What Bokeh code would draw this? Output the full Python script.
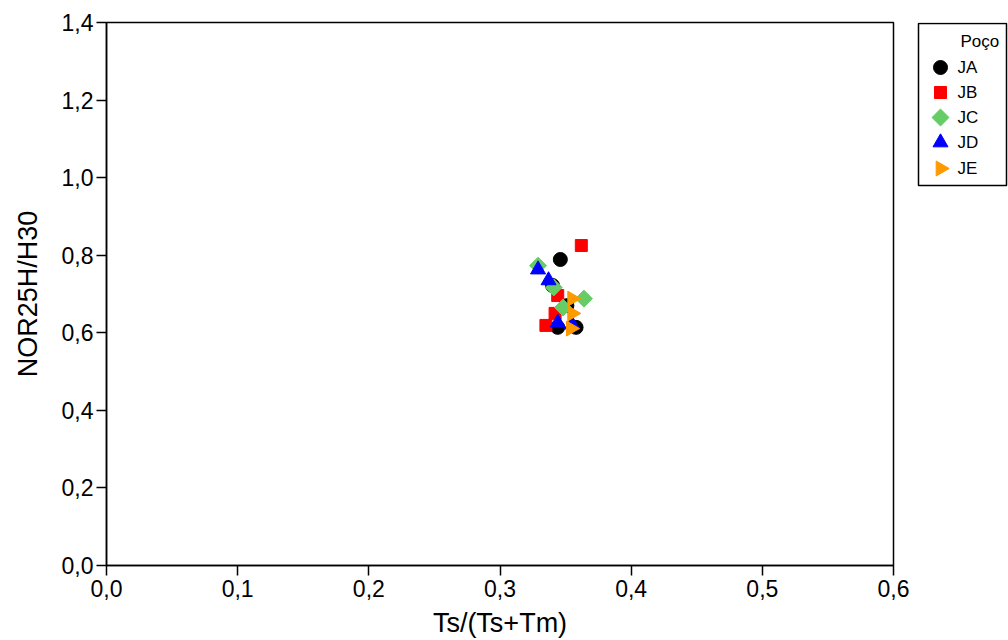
from bokeh.plotting import figure
from bokeh.layouts import row
from bokeh.models import Range1d, CustomJSTickFormatter, FixedTicker
from bokeh.core.properties import value
from bokeh.embed import file_html
from bokeh.resources import INLINE

# Data
ja_x = [0.346, 0.340, 0.351, 0.344, 0.358]
ja_y = [0.789, 0.722, 0.670, 0.614, 0.614]
jb_x = [0.362, 0.344, 0.342, 0.335]
jb_y = [0.825, 0.696, 0.650, 0.619]
jc_x = [0.329, 0.341, 0.364, 0.348]
jc_y = [0.773, 0.717, 0.688, 0.665]
jd_x = [0.329, 0.337, 0.344, 0.355]
jd_y = [0.763, 0.735, 0.626, 0.621]
je_x = [0.355, 0.355, 0.354]
je_y = [0.688, 0.650, 0.611]

wells = ["JA", "JB", "JC", "JD", "JE"]
legend_title = "Poço"
x_ticks = [0.0, 0.1, 0.2, 0.3, 0.4, 0.5, 0.6]
y_ticks = [0.0, 0.2, 0.4, 0.6, 0.8, 1.0, 1.2, 1.4]

FONT = "Liberation Sans"
styles = {
    "JA": dict(marker="circle", size=14, color="black", angle=0.0),
    "JB": dict(marker="square", size=12, color="red", angle=0.0),
    "JC": dict(marker="square", size=12, color="#66CC66", angle=0.7854),
    "JD": dict(marker="triangle", size=15, color="blue", angle=0.0),
    "JE": dict(marker="triangle", size=15, color="#FF9900", angle=-1.5708),
}
series = {"JA": (ja_x, ja_y), "JB": (jb_x, jb_y), "JC": (jc_x, jc_y),
          "JD": (jd_x, jd_y), "JE": (je_x, je_y)}

p = figure(frame_width=787, frame_height=543, output_backend="svg", toolbar_location=None,
           x_range=Range1d(0, 0.6), y_range=Range1d(0, 1.4),
           min_border_left=106, min_border_right=20, min_border_top=22, min_border_bottom=75)
p.background_fill_color = "white"
p.border_fill_color = "white"
p.outline_line_color = "black"
p.outline_line_width = 1.5
p.grid.visible = False

fmt = CustomJSTickFormatter(code="return tick.toFixed(1).replace('.', ',');")
for ax, ticks in ((p.xaxis[0], x_ticks), (p.yaxis[0], y_ticks)):
    ax.ticker = FixedTicker(ticks=ticks)
    ax.formatter = fmt
    ax.minor_tick_line_color = None
    ax.major_tick_in = 0
    ax.major_tick_out = 10
    ax.axis_line_width = 1.5
    ax.major_tick_line_width = 1.5
    ax.major_label_text_font = FONT
    ax.major_label_text_font_size = "23px"
    ax.major_label_text_color = "black"
    ax.axis_label_text_font = FONT
    ax.axis_label_text_font_size = "27px"
    ax.axis_label_text_font_style = "normal"
    ax.axis_label_text_color = "black"

p.xaxis[0].axis_label = "Ts/(Ts+Tm)"
p.yaxis[0].axis_label = "NOR25H/H30"
p.xaxis[0].major_label_standoff = 4
p.yaxis[0].major_label_standoff = 3
p.xaxis[0].axis_label_standoff = 8
p.yaxis[0].axis_label_standoff = 16

for w in wells:
    st = styles[w]
    xs, ys = series[w]
    p.scatter(xs, ys, marker=st["marker"], size=st["size"], angle=st["angle"],
              fill_color=st["color"], line_color=st["color"])

# Legend panel (separate small canvas; its frame is aligned with the main frame,
# so its y range is set in page pixels between the frame's top and bottom)
leg = figure(width=95, height=640, output_backend="svg", toolbar_location=None,
             x_range=Range1d(0, 95), y_range=Range1d(565, 22),
             min_border=0, x_axis_location=None, y_axis_location=None)
leg.outline_line_color = None
leg.grid.visible = False
leg.background_fill_color = "white"
leg.border_fill_color = "white"
leg.quad(left=[5], right=[93], top=[23], bottom=[185],
         fill_color="white", line_color="black", line_width=1.5)
leg.text(x=[47], y=[41], text=[legend_title], text_font=value(FONT),
         text_font_size="17px", text_baseline="middle", text_align="left", text_color="black")
row_y = [67, 92, 117, 142, 168]
for w, yy in zip(wells, row_y):
    st = styles[w]
    leg.scatter([27], [yy], marker=st["marker"], size=st["size"], angle=st["angle"],
                fill_color=st["color"], line_color=st["color"])
leg.text(x=[44] * len(wells), y=row_y, text=wells, text_font=value(FONT),
         text_font_size="17px", text_baseline="middle", text_align="left", text_color="black")

layout = row(p, leg, spacing=0)
open("out.html", "w").write(file_html(layout, INLINE))
